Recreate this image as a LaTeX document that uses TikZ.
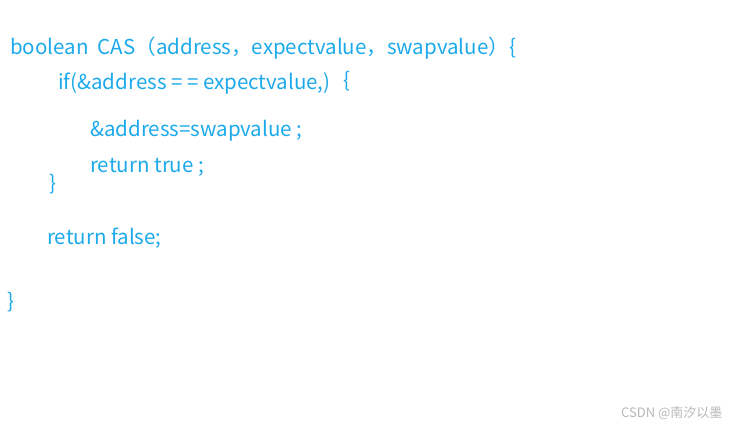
\documentclass[tikz,border=0pt]{standalone}
\usepackage{fontspec}
\setmainfont{Noto Sans CJK SC}
\definecolor{codeblue}{RGB}{28,170,235}
\definecolor{wmgray}{RGB}{185,185,185}
\begin{document}
\begin{tikzpicture}[x=1pt,y=-1pt,
  code/.style={anchor=base west,inner sep=0pt,text=codeblue,font=\fontsize{20.5}{24}\selectfont},
  wm/.style={anchor=base west,inner sep=0pt,text=wmgray,font=\fontsize{13}{15}\selectfont}]
\useasboundingbox[fill=white] (0,0) rectangle (737,428);
\node[code] (l1) at (10,55) {boolean\ \ CAS（address，expectvalue，swapvalue）\{};
\node[code] (l2) at (58,90) {if(\&address = = expectvalue,)};
\node[code] (l2b) at (343,88) {\{};
\node[code] (l3) at (90,136) {\&address=swapvalue ;};
\node[code] (l4) at (90,172) {return true ;};
\node[code] (b1) at (49,190) {\}};
\node[code] (l5) at (47,244) {return false;};
\node[code] (b2) at (7,308) {\}};
\node[wm] (w) at (621,417) {CSDN @南汐以墨};
\end{tikzpicture}
\end{document}
